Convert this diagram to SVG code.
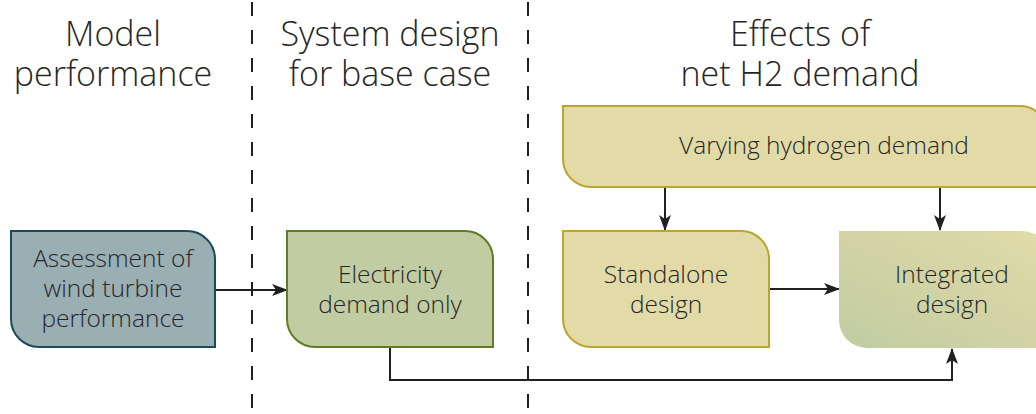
<svg xmlns="http://www.w3.org/2000/svg" width="1036" height="414" viewBox="0 0 1036 414">
  <defs>
    <linearGradient id="gradIntegrated" x1="0" y1="1" x2="1" y2="0">
      <stop offset="0" stop-color="#c1cca2"/>
      <stop offset="1" stop-color="#e2dba8"/>
    </linearGradient>
    <marker id="arrow" viewBox="0 0 16 12" refX="15" refY="6" markerWidth="16" markerHeight="12" markerUnits="userSpaceOnUse" orient="auto">
      <path d="M0,0 L16,6 L0,12 L4,6 Z" fill="#231f20"/>
    </marker>
  </defs>
  <style>
    text { font-family: "Open Sans", "DejaVu Sans", sans-serif; font-weight: 300; fill: #262626; text-anchor: middle; }
    .title { font-size: 34px; }
    .label { font-size: 24.5px; }
    .divider { stroke: #231f20; stroke-width: 2; stroke-dasharray: 14 14; stroke-dashoffset: -2; fill: none; }
    .conn { stroke: #231f20; stroke-width: 2; fill: none; }
    .teal { fill: #9aafb4; stroke: #1c4a55; stroke-width: 2; }
    .green { fill: #c1cca2; stroke: #5e7d22; stroke-width: 2; }
    .sand { fill: #e2dba8; stroke: #bba52f; stroke-width: 2; }
  </style>

  <rect width="1036" height="414" fill="#ffffff"/>

  <!-- column dividers -->
  <g id="dividers">
    <line class="divider" x1="252" y1="0" x2="252" y2="414"/>
    <line class="divider" x1="528" y1="0" x2="528" y2="414"/>
  </g>

  <!-- column headings, two lines each -->
  <g id="headings">
    <text class="title" x="113" y="46">Model<tspan x="113" dy="40">performance</tspan></text>
    <text class="title" x="390" y="46">System design<tspan x="390" dy="40">for base case</tspan></text>
    <text class="title" x="800" y="46">Effects of<tspan x="800" dy="40">net H2 demand</tspan></text>
  </g>

  <!-- connectors -->
  <g id="connectors">
    <line class="conn" x1="215" y1="290" x2="287" y2="290" marker-end="url(#arrow)"/>
    <line class="conn" x1="769" y1="289" x2="839" y2="289" marker-end="url(#arrow)"/>
    <line class="conn" x1="665" y1="187" x2="665" y2="230" marker-end="url(#arrow)"/>
    <line class="conn" x1="940" y1="187" x2="940" y2="230" marker-end="url(#arrow)"/>
    <polyline class="conn" points="390,347 390,380 952,380 952,349" marker-end="url(#arrow)"/>
  </g>

  <g id="assessment">
    <path class="teal" d="M11,231 H187 A28,28 0 0 1 215,259 V347 H39 A28,28 0 0 1 11,319 Z"/>
    <text class="label" x="113" y="267">Assessment of<tspan x="113" dy="30">wind turbine</tspan><tspan x="113" dy="30">performance</tspan></text>
  </g>

  <g id="electricity">
    <path class="green" d="M287,231 H465 A28,28 0 0 1 493,259 V347 H315 A28,28 0 0 1 287,319 Z"/>
    <text class="label" x="390" y="283">Electricity<tspan x="390" dy="30">demand only</tspan></text>
  </g>

  <g id="varying">
    <path class="sand" d="M563,106 H1020 A28,28 0 0 1 1048,134 V187 H591 A28,28 0 0 1 563,159 Z"/>
    <text class="label" x="824" y="154">Varying hydrogen demand</text>
  </g>

  <g id="standalone">
    <path class="sand" d="M563,231 H741 A28,28 0 0 1 769,259 V347 H591 A28,28 0 0 1 563,319 Z"/>
    <text class="label" x="666" y="283">Standalone<tspan x="666" dy="30">design</tspan></text>
  </g>

  <g id="integrated">
    <path fill="url(#gradIntegrated)" d="M839,231 H1022 A28,28 0 0 1 1050,259 V348 H867 A28,28 0 0 1 839,320 Z"/>
    <text class="label" x="952" y="283">Integrated<tspan x="952" dy="30">design</tspan></text>
  </g>
</svg>
